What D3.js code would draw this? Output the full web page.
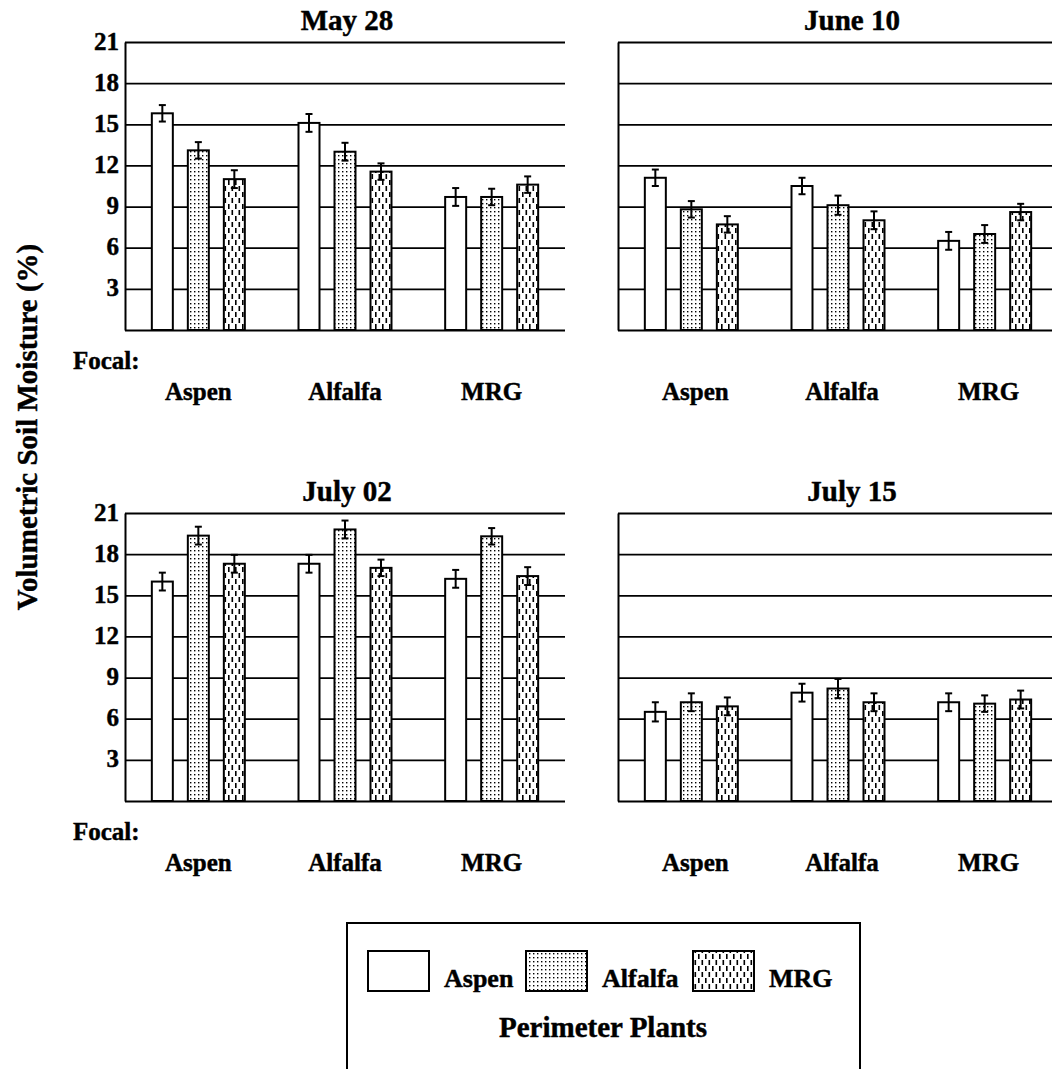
<!DOCTYPE html>
<html><head><meta charset="utf-8">
<script src="https://cdn.jsdelivr.net/npm/d3@7"></script>
<style>
body{margin:0;background:#fff}
</style>
</head><body>
<svg id="chart" width="1052" height="1069"></svg>
<script>
// ---------- data ----------
const panelTitles = ["May 28", "June 10", "July 02", "July 15"];
const focalPlants = ["Aspen", "Alfalfa", "MRG"];
const perimeterPlants = ["Aspen", "Alfalfa", "MRG"];
const yTickValues = [0, 3, 6, 9, 12, 15, 18, 21];
// rows = focal plant, columns = perimeter plant
const may28Values  = [[15.8, 13.1, 11.0], [15.1, 13.0, 11.55], [9.7, 9.7, 10.6]];
const may28Errors  = [[0.6, 0.6, 0.65], [0.65, 0.65, 0.6], [0.65, 0.6, 0.6]];
const june10Values = [[11.1, 8.8, 7.7], [10.5, 9.1, 8.0], [6.5, 7.0, 8.6]];
const june10Errors = [[0.6, 0.6, 0.6], [0.6, 0.7, 0.65], [0.65, 0.65, 0.6]];
const july02Values = [[16.0, 19.35, 17.3], [17.3, 19.8, 17.0], [16.2, 19.3, 16.4]];
const july02Errors = [[0.65, 0.65, 0.65], [0.65, 0.65, 0.6], [0.65, 0.6, 0.65]];
const july15Values = [[6.5, 7.2, 6.9], [7.9, 8.2, 7.2], [7.2, 7.1, 7.4]];
const july15Errors = [[0.7, 0.65, 0.65], [0.65, 0.7, 0.65], [0.65, 0.6, 0.65]];
const panelValues = [may28Values, june10Values, july02Values, july15Values];
const panelErrors = [may28Errors, june10Errors, july02Errors, july15Errors];

// ---------- layout ----------
const FONT = '"Liberation Serif", "Times New Roman", Times, "DejaVu Serif", serif';
const svg = d3.select("#chart");
const W = 440, H = 288;
const panelPos = [[125, 42], [618, 42], [125, 513], [618, 513]];
const barW = 21;

function txt(sel) {
  return sel.attr("font-family", FONT).attr("font-weight", "bold").attr("fill", "#000")
    .attr("stroke", "#000").attr("stroke-width", 0.45);
}

const defs = svg.append("defs");
const pDot = defs.append("pattern").attr("id", "pat-alfalfa").attr("patternUnits", "userSpaceOnUse")
  .attr("width", 4).attr("height", 4);
pDot.append("rect").attr("width", 4).attr("height", 4).attr("fill", "#fff");
pDot.append("rect").attr("x", 1).attr("y", 1).attr("width", 1.4).attr("height", 1.4).attr("fill", "#000");
const pDash = defs.append("pattern").attr("id", "pat-mrg").attr("patternUnits", "userSpaceOnUse")
  .attr("width", 7).attr("height", 12);
pDash.append("rect").attr("width", 7).attr("height", 12).attr("fill", "#fff");
pDash.append("rect").attr("x", 1.5).attr("y", 0).attr("width", 1.6).attr("height", 5).attr("fill", "#000");
pDash.append("rect").attr("x", 5).attr("y", 6).attr("width", 1.6).attr("height", 5).attr("fill", "#000");
const fills = {"Aspen": "#fff", "Alfalfa": "url(#pat-alfalfa)", "MRG": "url(#pat-mrg)"};

const x = d3.scaleBand().domain(focalPlants).range([0, W]);
const xInner = d3.scalePoint().domain(perimeterPlants).range([-36, 36]);
const y = d3.scaleLinear().domain([0, 21]).range([H, 0]);

panelTitles.forEach((title, pi) => {
  const [px, py] = panelPos[pi];
  const isLeft = pi % 2 === 0;
  const g = svg.append("g").attr("transform", `translate(${px},${py})`);

  const axis = d3.axisLeft(y).tickValues(yTickValues).tickSizeInner(-W).tickSizeOuter(0)
    .tickPadding(6).tickFormat(d => (isLeft && d > 0) ? d : "");
  const ag = g.append("g").call(axis);
  ag.attr("font-family", FONT);
  ag.select(".domain").attr("stroke", "#000").attr("stroke-width", 2);
  ag.selectAll(".tick line").attr("stroke", "#000").attr("stroke-width", 1.8);
  txt(ag.selectAll(".tick text")).attr("font-size", 25).attr("dy", "0.28em");

  const vals = panelValues[pi], errs = panelErrors[pi];
  const data = [];
  focalPlants.forEach((f, fi) => perimeterPlants.forEach((p, k) => {
    data.push({f, p, v: vals[fi][k], e: errs[fi][k]});
  }));
  const cx = d => x(d.f) + x.bandwidth() / 2 + xInner(d.p);

  g.selectAll("rect.bar").data(data).join("rect").attr("class", "bar")
    .attr("x", d => cx(d) - barW / 2).attr("y", d => y(d.v))
    .attr("width", barW).attr("height", d => H - y(d.v))
    .attr("fill", d => fills[d.p]).attr("stroke", "#000").attr("stroke-width", 2);

  const eg = g.selectAll("g.err").data(data).join("g").attr("class", "err")
    .attr("stroke", "#000").attr("stroke-width", 2);
  eg.append("line").attr("x1", cx).attr("x2", cx)
    .attr("y1", d => y(d.v + d.e)).attr("y2", d => y(d.v - d.e));
  eg.append("line").attr("x1", d => cx(d) - 3.5).attr("x2", d => cx(d) + 3.5)
    .attr("y1", d => y(d.v + d.e)).attr("y2", d => y(d.v + d.e));
  eg.append("line").attr("x1", d => cx(d) - 3.5).attr("x2", d => cx(d) + 3.5)
    .attr("y1", d => y(d.v - d.e)).attr("y2", d => y(d.v - d.e));

  txt(g.append("text")).attr("x", W / 2 + (isLeft ? 2 : 14)).attr("y", -12).attr("text-anchor", "middle")
    .attr("font-size", 29).text(title);

  txt(g.selectAll("text.cat").data(focalPlants).join("text").attr("class", "cat"))
    .attr("x", d => x(d) + x.bandwidth() / 2 + (isLeft ? 0 : 4)).attr("y", H + 70)
    .attr("text-anchor", "middle").attr("font-size", 25).text(d => d);

  if (isLeft) {
    txt(g.append("text")).attr("x", 73 - px).attr("y", H + 39).attr("font-size", 25).text("Focal:");
  }
});

// y-axis title
txt(svg.append("text")).attr("transform", "translate(37,427) rotate(-90)")
  .attr("text-anchor", "middle").attr("font-size", 29).text("Volumetric Soil Moisture (%)");

// legend
const lg = svg.append("g");
lg.append("rect").attr("x", 347).attr("y", 923).attr("width", 513).attr("height", 160)
  .attr("fill", "#fff").attr("stroke", "#000").attr("stroke-width", 2);
const legendX = [368, 526, 693];
perimeterPlants.forEach((p, i) => {
  lg.append("rect").attr("x", legendX[i]).attr("y", 951).attr("width", 61).attr("height", 40)
    .attr("fill", fills[p]).attr("stroke", "#000").attr("stroke-width", 2);
  txt(lg.append("text")).attr("x", legendX[i] + 76).attr("y", 987).attr("font-size", 26).text(p);
});
txt(lg.append("text")).attr("x", 603).attr("y", 1037).attr("text-anchor", "middle")
  .attr("font-size", 29).text("Perimeter Plants");
</script>
</body></html>
